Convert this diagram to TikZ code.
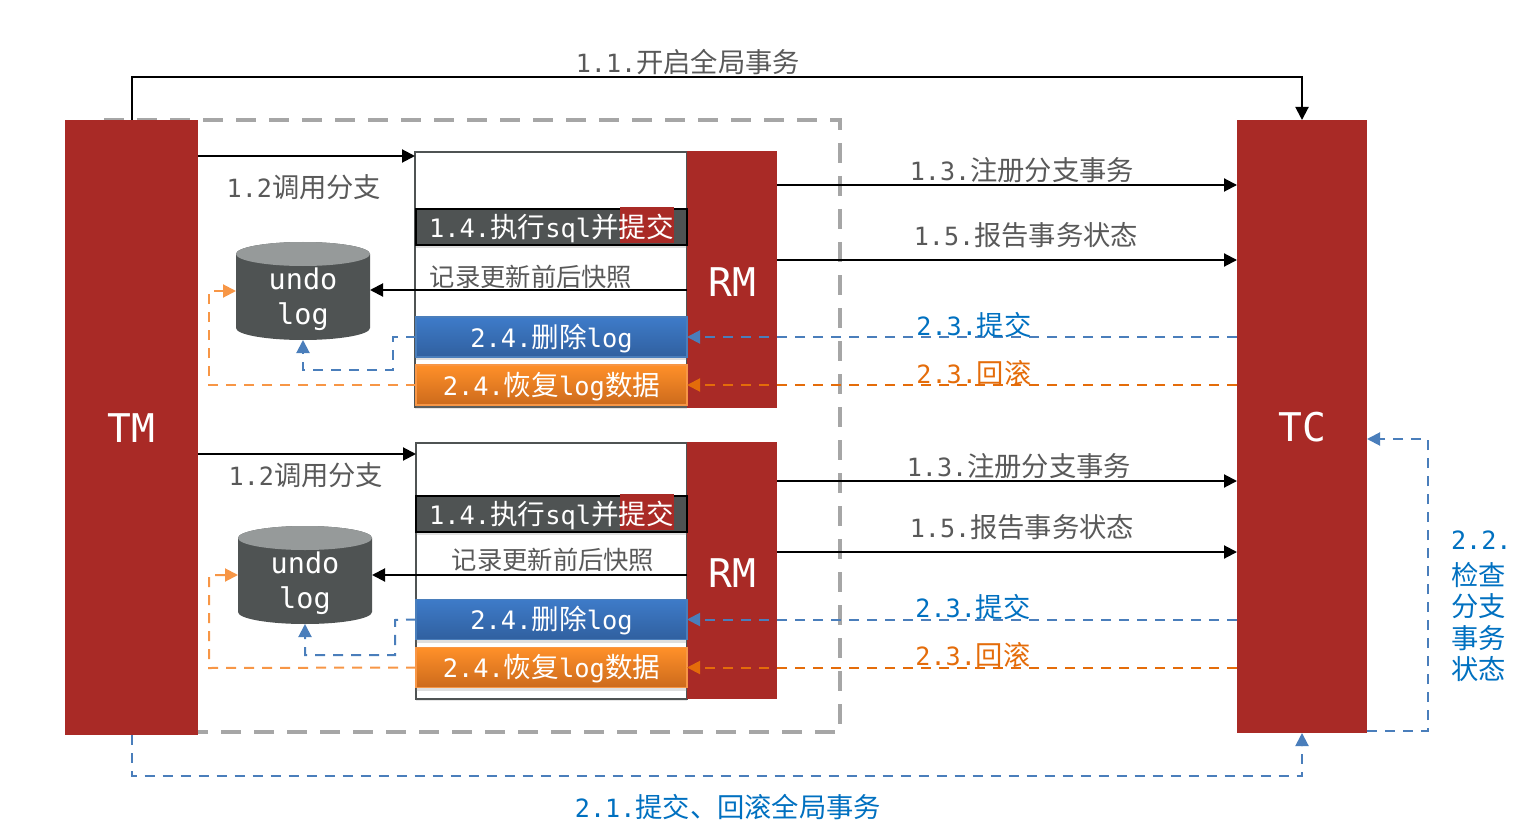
\documentclass[tikz,border=0pt]{standalone}
\usepackage{fontspec}
\setmainfont{Noto Sans CJK SC}
\setmonofont{DejaVu Sans Mono}[Scale=0.92]
\usepackage{xcolor}
\definecolor{mred}{HTML}{A92A26}
\definecolor{mdark}{HTML}{4F5353}
\definecolor{mtop}{HTML}{969A9A}
\definecolor{mgray}{HTML}{595959}
\definecolor{mblue}{HTML}{4A7EBB}
\definecolor{mbluetop}{HTML}{3E7BC9}
\definecolor{mbluebot}{HTML}{30609F}
\definecolor{mtext}{HTML}{0070C0}
\definecolor{morange}{HTML}{F79646}
\definecolor{morangetop}{HTML}{FF9029}
\definecolor{morangebot}{HTML}{CC6A1C}
\definecolor{mdeep}{HTML}{E46C0A}
\usetikzlibrary{arrows.meta,shadows}
\tikzset{
    every node/.style={outer sep=0pt},
    base/.style={font=\fontsize{27.3}{31.5}\selectfont, inner sep=0pt, text height=26.6pt, text depth=6pt},
    boxtext/.style={font=\fontsize{27.6}{31.5}\selectfont, inner sep=0pt, text=white, text height=26.6pt, text depth=6pt},
    bigbox/.style={fill=mred, text=white, inner sep=0pt, text height=30pt, text depth=0pt, font=\ttfamily\fontsize{43}{47}\selectfont},
    rmbox/.style={bigbox, text height=34pt, minimum width=90, minimum height=257},
    branch/.style={draw=mdark, line width=2pt, fill=white, inner sep=0pt, drop shadow={shadow xshift=0pt, shadow yshift=-2pt, opacity=.2}},
    runbox/.style={boxtext, draw=black, line width=2.5pt, fill=mdark, minimum width=271, minimum height=36, drop shadow={shadow xshift=0pt, shadow yshift=-3pt, opacity=.25}},
    delbox/.style={boxtext, draw=mblue, line width=1.5pt, top color=mbluetop, bottom color=mbluebot, minimum width=271, minimum height=40, drop shadow={shadow xshift=0pt, shadow yshift=-3pt, opacity=.25}},
    backbox/.style={boxtext, draw=morange, line width=1.5pt, top color=morangetop, bottom color=morangebot, minimum width=271, minimum height=40, drop shadow={shadow xshift=0pt, shadow yshift=-3pt, opacity=.25}},
    logdb/.style={inner sep=0pt, text=white, align=center, font=\ttfamily\fontsize{31}{35}\selectfont, minimum width=134, minimum height=98},
    flow/.style={-{Triangle[length=13pt,width=13pt]}, line width=2pt},
    blueflow/.style={flow, mblue, dash pattern=on 10pt off 8pt},
    orangeflow/.style={flow, morange, dash pattern=on 10pt off 8pt},
    deepflow/.style={flow, mdeep, dash pattern=on 10pt off 8pt},
    graytext/.style={base, text=mgray},
    snaptext/.style={base, text=mgray, font=\fontsize{25.3}{31.5}\selectfont},
    bluetext/.style={base, text=mtext},
    deeptext/.style={base, text=mdeep},
}
\begin{document}
\begin{tikzpicture}[x=1pt, y=-1pt]
    \useasboundingbox (0,0) rectangle (1530,834);
    % global transaction frame
    \draw[line width=4pt, color=black!35, dash pattern=on 20pt off 13pt] (104,120) -- (840,120) -- (840,732) -- (198,732);
    % TM and TC
    \node[bigbox, minimum width=133, minimum height=615] (TM) at (131.5,427.5) {TM};
    \node[bigbox, minimum width=130, minimum height=613] (TC) at (1302,426.5) {TC};
    % first branch
    \node[branch, minimum width=272, minimum height=255] (brA) at (551,279.5) {};
    \node[rmbox] (RMa) at (732,279.5) {RM};
    \node[runbox] (runA) at (551.5,227) {};
    \node[fill=mred, minimum width=54, minimum height=36, inner sep=0pt] (hlA) at (647,225) {};
    \node[boxtext] (runtA) at (551.5,227) {{\ttfamily 1.4.}执行{\ttfamily sql}并提交};
    \node[delbox] (delA) at (551.5,337) {{\ttfamily 2.4.}删除{\ttfamily log}};
    \node[backbox] (undoA) at (551.5,385) {{\ttfamily 2.4.}恢复{\ttfamily log}数据};
    \node[logdb] (logA) at (303,291) {};
    \fill[mdark] ([yshift=-12pt]logA.north west) -- ([yshift=12pt]logA.south west)
        arc[start angle=180, end angle=360, x radius=67pt, y radius=12pt]
        -- ([yshift=-12pt]logA.north east)
        arc[start angle=0, end angle=180, x radius=67pt, y radius=12pt] -- cycle;
    \fill[mtop] ([yshift=-12pt]logA.north) ellipse [x radius=67pt, y radius=12pt];
    \node[logdb, minimum height=0pt, minimum width=0pt] (logtA) at (303,299) {undo\\log};
    % second branch
    \node[branch, minimum width=271, minimum height=256] (brB) at (551.5,571) {};
    \node[rmbox] (RMb) at (732,570.5) {RM};
    \node[runbox] (runB) at (551.5,514) {};
    \node[fill=mred, minimum width=54, minimum height=36, inner sep=0pt] (hlB) at (647,512) {};
    \node[boxtext] (runtB) at (551.5,514) {{\ttfamily 1.4.}执行{\ttfamily sql}并提交};
    \node[delbox] (delB) at (551.5,619.5) {{\ttfamily 2.4.}删除{\ttfamily log}};
    \node[backbox] (undoB) at (551.5,667.5) {{\ttfamily 2.4.}恢复{\ttfamily log}数据};
    \node[logdb] (logB) at (305,575) {};
    \fill[mdark] ([yshift=-12pt]logB.north west) -- ([yshift=12pt]logB.south west)
        arc[start angle=180, end angle=360, x radius=67pt, y radius=12pt]
        -- ([yshift=-12pt]logB.north east)
        arc[start angle=0, end angle=180, x radius=67pt, y radius=12pt] -- cycle;
    \fill[mtop] ([yshift=-12pt]logB.north) ellipse [x radius=67pt, y radius=12pt];
    \node[logdb, minimum height=0pt, minimum width=0pt] (logtB) at (305,583) {undo\\log};
    % TM to TC
    \draw[flow] (TM.north) -- (TM.north |- 0,77) -| (TC.north);
    \draw[blueflow] (TM.south) -- (TM.south |- 0,776) -| (TC.south);
    \draw[blueflow] (TC.east |- 0,731) -- (1428,731) -- (1428,439) -- (TC.east |- 0,439);
    % TM to branches
    \draw[flow] (TM.east |- 0,156) -- (brA.west |- 0,156);
    \draw[flow] (TM.east |- 0,454) -- (brB.west |- 0,454);
    % RM to TC, first branch
    \draw[flow] (RMa.east |- 0,185) -- (TC.west |- 0,185);
    \draw[flow] (RMa.east |- 0,260) -- (TC.west |- 0,260);
    \draw[blueflow] (TC.west |- delA.east) -- (RMa.west |- delA.east);
    \draw[deepflow] (TC.west |- undoA.east) -- (RMa.west |- undoA.east);
    % RM to TC, second branch
    \draw[flow] (RMb.east |- 0,481) -- (TC.west |- 0,481);
    \draw[flow] (RMb.east |- 0,552) -- (TC.west |- 0,552);
    \draw[blueflow] (TC.west |- delB.east) -- (RMb.west |- delB.east);
    \draw[deepflow] (TC.west |- undoB.east) -- (RMb.west |- undoB.east);
    % undo log
    \draw[flow] (RMa.west |- 0,290) -- (logA.east |- 0,290);
    \draw[blueflow] (delA.west) -- (393,337) -- (393,370) -| (logA.south);
    \draw[orangeflow] (undoA.west) -- (209,385) |- (logA.west |- 0,291);
    \draw[flow] (RMb.west |- 0,575) -- (logB.east |- 0,575);
    \draw[blueflow] (delB.west) -- (395,620) -- (395,655) -| (logB.south);
    \draw[orangeflow] (undoB.west) -- (209,668) |- (logB.west |- 0,575);
    % labels
    \node[graytext] (t11) at (688,62) {{\ttfamily 1.1.}开启全局事务};
    \node[graytext] (t12a) at (304,187) {{\ttfamily 1.2}调用分支};
    \node[graytext] (t12b) at (306,475) {{\ttfamily 1.2}调用分支};
    \node[graytext] (t13a) at (1022,170) {{\ttfamily 1.3.}注册分支事务};
    \node[graytext] (t15a) at (1026,235) {{\ttfamily 1.5.}报告事务状态};
    \node[graytext] (t13b) at (1019,466) {{\ttfamily 1.3.}注册分支事务};
    \node[graytext] (t15b) at (1022,527) {{\ttfamily 1.5.}报告事务状态};
    \node[snaptext] (snapA) at (531,276) {记录更新前后快照};
    \node[snaptext] (snapB) at (553,559) {记录更新前后快照};
    \node[bluetext] (t23a) at (974,325) {{\ttfamily 2.3.}提交};
    \node[deeptext] (t24a) at (974,373) {{\ttfamily 2.3.}回滚};
    \node[bluetext] (t23b) at (973,607) {{\ttfamily 2.3.}提交};
    \node[deeptext] (t24b) at (973,655) {{\ttfamily 2.3.}回滚};
    \node[bluetext] (t21) at (728,807) {{\ttfamily 2.1.}提交、回滚全局事务};
    \node[text=mtext, font=\fontsize{27.3}{31.5}\selectfont, inner sep=0pt, align=left, anchor=north west] (t22) at (1451,531) {{\ttfamily 2.2.}\\[4pt]检查\\分支\\事务\\状态};
\end{tikzpicture}
\end{document}
